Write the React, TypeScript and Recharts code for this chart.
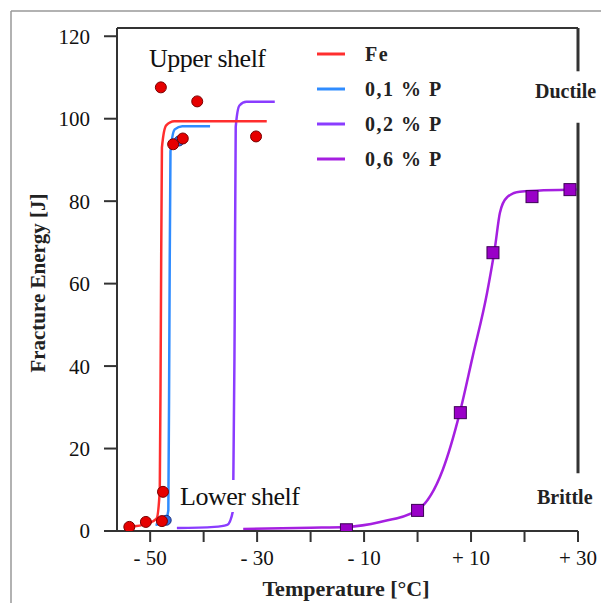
import { ComposedChart, Line, Scatter, XAxis, YAxis, ReferenceLine } from 'recharts';

// temperature [°C] / fracture energy [J]
const xTicks = [-50, -40, -30, -20, -10, 0, 10, 20, 30];
const yTicks = [0, 20, 40, 60, 80, 100, 120];

const feCurve = [
  { x: -54, y: 1 }, { x: -50.5, y: 1.8 }, { x: -48.8, y: 3 }, { x: -48.2, y: 10 },
  { x: -48.0, y: 50 }, { x: -47.8, y: 93 }, { x: -47.0, y: 98.4 }, { x: -45.5, y: 99.4 },
  { x: -28.2, y: 99.4 },
];
const p01Curve = [
  { x: -49, y: 1.5 }, { x: -47.3, y: 2 }, { x: -46.6, y: 5 }, { x: -46.4, y: 50 },
  { x: -46.2, y: 92 }, { x: -45.4, y: 97.4 }, { x: -44, y: 98.2 }, { x: -38.8, y: 98.2 },
];
const p02Curve = [
  { x: -45, y: 0.7 }, { x: -38, y: 1 }, { x: -35.6, y: 1.5 }, { x: -34.5, y: 5 },
  { x: -34.2, y: 50 }, { x: -34.0, y: 98 }, { x: -33.3, y: 103.2 }, { x: -32, y: 104.1 },
  { x: -26.7, y: 104.1 },
];
const p06Curve = [
  { x: -32.6, y: 0.5 }, { x: -20, y: 0.8 }, { x: -13.3, y: 1 }, { x: -7, y: 2.2 },
  { x: 0, y: 5.1 }, { x: 4.7, y: 14.8 }, { x: 7.9, y: 28.7 }, { x: 10.3, y: 42.3 },
  { x: 13, y: 57.8 }, { x: 14.5, y: 69 }, { x: 15.4, y: 77.2 }, { x: 16.7, y: 80.9 },
  { x: 19.1, y: 82.3 }, { x: 29.8, y: 82.8 },
];

const feDots = [
  { x: -53.9, y: 1 }, { x: -50.8, y: 2.2 }, { x: -47.8, y: 2.4 }, { x: -47.6, y: 9.5 },
  { x: -48, y: 107.6 }, { x: -41.2, y: 104.2 }, { x: -43.9, y: 95.2 }, { x: -45.7, y: 93.8 },
  { x: -30.2, y: 95.7 },
];
const p01Dots = [{ x: -47.0, y: 2.6 }, { x: -44.6, y: 94.6 }];
const p06Dots = [
  { x: -13.3, y: 0.3 }, { x: 0, y: 5 }, { x: 8, y: 28.7 }, { x: 14.1, y: 67.5 },
  { x: 21.4, y: 81.1 }, { x: 28.5, y: 82.8 },
];

const legendItems = [
  { name: 'Fe', color: '#ff2e2e' },
  { name: '0,1 % P', color: '#2f8cff' },
  { name: '0,2 % P', color: '#8a3cff' },
  { name: '0,6 % P', color: '#a51fe0' },
];

const FONT = '"Liberation Serif", "Times New Roman", serif';
const AXIS = '#333';

const fmtX = (v: number) => {
  if (![-50, -30, -10, 10, 30].includes(v)) return '';
  return v < 0 ? `- ${-v}` : `+ ${v}`;
};

const RedDot = (p: any) => (
  <circle cx={p.cx} cy={p.cy} r={5.5} fill="#e60000" stroke="#7a0000" strokeWidth={1} />
);
const BlueDot = (p: any) => (
  <circle cx={p.cx} cy={p.cy} r={5} fill="#2f6fe0" stroke="#1a2f80" strokeWidth={1} />
);
const PurpleSquare = (p: any) => (
  <rect x={p.cx - 6} y={p.cy - 6} width={12} height={12} fill="#9a00c8" stroke="#3c0055" strokeWidth={1} />
);

export default function App() {
  return (
    <div style={{ position: 'absolute', left: 0, top: 0, width: 601, height: 603, background: '#fff' }}>
      <ComposedChart width={601} height={603} margin={{ top: 28, right: 23, bottom: 32, left: 37 }}>
        <XAxis
          dataKey="x"
          type="number"
          domain={[-56.2, 30]}
          ticks={xTicks}
          tickFormatter={fmtX}
          height={40}
          tickSize={11}
          tickMargin={8}
          stroke={AXIS}
          strokeWidth={2}
          tick={{ fontFamily: FONT, fontSize: 21, fill: '#111' }}
          allowDataOverflow
        />
        <YAxis
          dataKey="y"
          type="number"
          domain={[0, 122]}
          ticks={yTicks}
          width={80}
          tickSize={13}
          tickMargin={14}
          stroke={AXIS}
          strokeWidth={2}
          tick={{ fontFamily: FONT, fontSize: 21, fill: '#111' }}
          allowDataOverflow
        />
        <ReferenceLine y={122} stroke={AXIS} strokeWidth={2} />
        <ReferenceLine segment={[{ x: 30, y: 122 }, { x: 30, y: 111.5 }]} stroke={AXIS} strokeWidth={3} />
        <ReferenceLine segment={[{ x: 30, y: 99 }, { x: 30, y: 14 }]} stroke={AXIS} strokeWidth={3} />

        <Line data={p06Curve} dataKey="y" type="monotone" stroke="#a51fe0" strokeWidth={2.5} dot={false} isAnimationActive={false} />
        <Line data={p02Curve} dataKey="y" type="monotone" stroke="#8a3cff" strokeWidth={2.5} dot={false} isAnimationActive={false} />
        <Line data={p01Curve} dataKey="y" type="monotone" stroke="#2f8cff" strokeWidth={2.5} dot={false} isAnimationActive={false} />
        <Line data={feCurve} dataKey="y" type="monotone" stroke="#ff2e2e" strokeWidth={2.5} dot={false} isAnimationActive={false} />

        <Scatter data={p01Dots} dataKey="y" shape={BlueDot} isAnimationActive={false} />
        <Scatter data={feDots} dataKey="y" shape={RedDot} isAnimationActive={false} />
        <Scatter data={p06Dots} dataKey="y" shape={PurpleSquare} isAnimationActive={false} />
      </ComposedChart>

      <svg width={601} height={603} style={{ position: 'absolute', left: 0, top: 0, pointerEvents: 'none' }}>
        {/* outer frame */}
        <line x1={11} y1={11} x2={601} y2={11} stroke="#999" strokeWidth={1.5} />
        <line x1={11} y1={11} x2={11} y2={603} stroke="#999" strokeWidth={1.5} />

        {/* legend */}
        {legendItems.map((it, i) => (
          <g key={it.name}>
            <line x1={317} x2={345} y1={54 + i * 35} y2={54 + i * 35} stroke={it.color} strokeWidth={3} />
            <text x={365} y={61 + i * 35} fontFamily={FONT} fontWeight="bold" fontSize={20} fill="#222" letterSpacing={1.5}>
              {it.name}
            </text>
          </g>
        ))}

        <text x={149} y={67} fontFamily={FONT} fontSize={26} fill="#111" letterSpacing={-0.5}>Upper shelf</text>
        <rect x={178} y={480} width={134} height={32} fill="#fff" />
        <text x={180} y={505} fontFamily={FONT} fontSize={26} fill="#111" letterSpacing={-0.5}>Lower shelf</text>
        <text x={535} y={98} fontFamily={FONT} fontWeight="bold" fontSize={20} fill="#222">Ductile</text>
        <text x={537} y={504} fontFamily={FONT} fontWeight="bold" fontSize={20} fill="#222">Brittle</text>

        <text x={346} y={596} textAnchor="middle" fontFamily={FONT} fontWeight="bold" fontSize={22} fill="#222">
          Temperature [°C]
        </text>
        <text
          x={45}
          y={283}
          textAnchor="middle"
          transform="rotate(-90 45 283)"
          fontFamily={FONT}
          fontWeight="bold"
          fontSize={21}
          fill="#222"
        >
          Fracture Energy [J]
        </text>
      </svg>
    </div>
  );
}
